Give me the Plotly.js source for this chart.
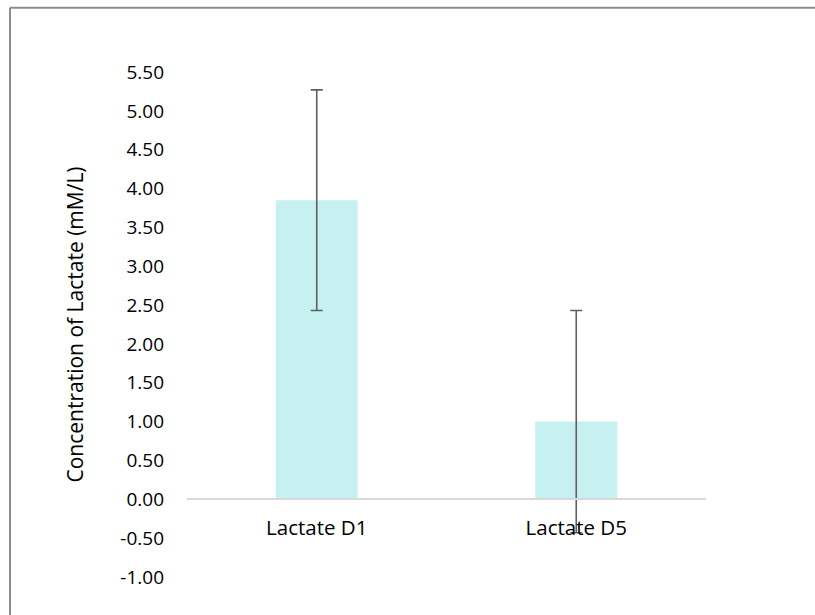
<!DOCTYPE html>
<html>
<head>
<meta charset="utf-8">
<script src="https://cdn.plot.ly/plotly-3.0.1.min.js"></script>
<style>
  html, body { margin: 0; padding: 0; background: #ffffff; overflow: hidden; }
  #chart { position: absolute; left: 0; top: 0; width: 815px; height: 615px; }
</style>
</head>
<body>
<div id="chart"></div>
<script>
const categories = ["Lactate D1", "Lactate D5"];
const means = [3.85, 1.00];
const errors = [1.42, 1.43];
const yTickVals = [-1, -0.5, 0, 0.5, 1, 1.5, 2, 2.5, 3, 3.5, 4, 4.5, 5, 5.5];
const yTickText = yTickVals.map(v => v.toFixed(2));
const yTitle = "Concentration of Lactate (mM/L)";

const fontFam = "Open Sans, Liberation Sans, sans-serif";

const trace = {
  type: "bar",
  x: categories,
  y: means,
  marker: { color: "#c7f1f1", line: { width: 0 } },
  error_y: { type: "data", array: errors, visible: true, color: "#5f5f5f", thickness: 1.6, width: 6 },
  hoverinfo: "skip"
};

// chart frame (only its left and top edges fall inside the picture)
const W = 815, H = 615, mL = 187, mR = 109, mT = 71.5, mB = 37.5;
const plotW = W - mL - mR, plotH = H - mT - mB;
const fx = px => (px - mL) / plotW;
const fy = py => (H - mB - py) / plotH;
const frameStyle = { color: "#8c8c8c", width: 2 };

const layout = {
  width: W, height: H,
  margin: { l: mL, r: mR, t: mT, b: mB },
  paper_bgcolor: "#ffffff",
  plot_bgcolor: "rgba(0,0,0,0)",
  bargap: 0.684,
  showlegend: false,
  font: { family: fontFam, size: 20, color: "#000000" },
  shapes: [
    { type: "line", xref: "paper", yref: "paper", x0: fx(10), x1: fx(830), y0: fy(7), y1: fy(7), line: frameStyle, layer: "below" },
    { type: "line", xref: "paper", yref: "paper", x0: fx(10), x1: fx(10), y0: fy(7), y1: fy(630), line: frameStyle, layer: "below" }
  ],
  xaxis: {
    type: "category",
    range: [-0.5, 1.5],
    anchor: "free",
    position: 1 / 6.5,
    showline: true, linecolor: "#d9d9d9", linewidth: 2,
    showgrid: false, zeroline: false,
    ticks: "", ticklabelstandoff: 10,
    tickfont: { family: fontFam, size: 20.5, color: "#000000" }
  },
  yaxis: {
    range: [-1, 5.5],
    tickvals: yTickVals, ticktext: yTickText,
    showgrid: false, zeroline: false, showline: false,
    ticks: "", ticklabelstandoff: 22,
    tickfont: { family: fontFam, size: 19, color: "#000000" },
    title: { text: yTitle, standoff: 30, font: { family: fontFam, size: 21, color: "#000000" } }
  }
};

Plotly.newPlot("chart", [trace], layout, { displayModeBar: false, staticPlot: true });
</script>
</body>
</html>
